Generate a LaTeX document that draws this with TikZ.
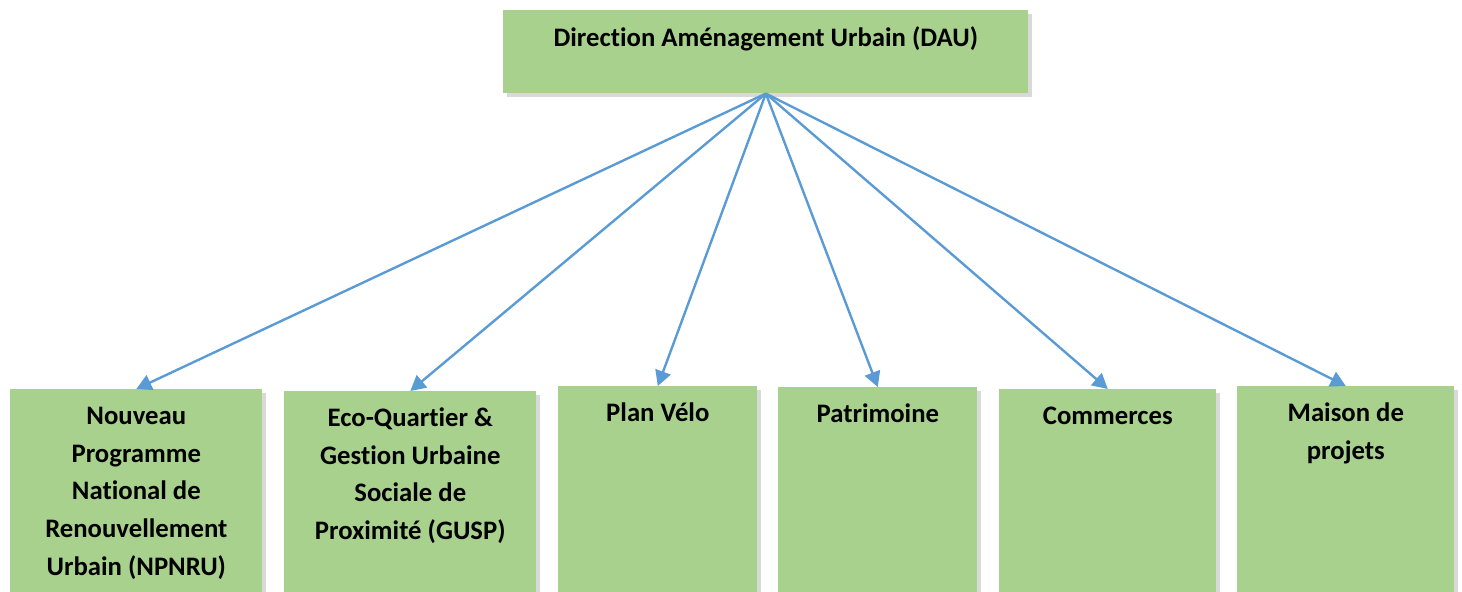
\documentclass[tikz,border=0pt]{standalone}
\usepackage{fontspec}
\setmainfont[Ligatures=NoCommon]{Carlito}
\usetikzlibrary{arrows.meta,shadows,positioning}
\definecolor{boxgreen}{HTML}{A9D18E}
\definecolor{linkblue}{HTML}{5B9BD5}

\begin{document}
\begin{tikzpicture}[x=0.025cm, y=-0.025cm,
    unit/.style={fill=boxgreen, draw=none, inner sep=0pt, anchor=north west,
      drop shadow={shadow xshift=0.09cm, shadow yshift=-0.09cm, opacity=0.3}},
    lbl/.style={anchor=north, inner sep=0pt, align=center,
      font=\fontsize{19}{26.8}\selectfont\bfseries},
    link/.style={draw=linkblue, line width=1.7pt, -{Triangle[length=0.38cm, width=0.4cm]}}]
        \useasboundingbox (0,0) rectangle (1462,592);
        % direction
        \node[unit, minimum width=13.125cm, minimum height=2.075cm] (dau) at (503,10) {};
        \node[lbl] (dau-t) at ([yshift=-0.24cm]dau.north) {\strut Direction Aménagement Urbain (DAU)};
        % services
        \node[unit, minimum width=6.3cm, minimum height=5.8cm] (npnru) at (10,389) {};
        \node[unit, minimum width=6.3cm, minimum height=5.8cm] (gusp) at (284,391) {};
        \node[unit, minimum width=4.975cm, minimum height=5.8cm] (velo) at (558,386) {};
        \node[unit, minimum width=4.975cm, minimum height=5.8cm] (patri) at (778,387) {};
        \node[unit, minimum width=5.425cm, minimum height=5.8cm] (comm) at (999,389) {};
        \node[unit, minimum width=5.425cm, minimum height=5.8cm] (maison) at (1237,386) {};
        \node[lbl] (npnru-t) at ([yshift=-0.22cm]npnru.north) {\strut Nouveau\\Programme\\National de\\Renouvellement\\Urbain (NPNRU)};
        \node[lbl] (gusp-t) at ([yshift=-0.22cm]gusp.north) {\strut Eco-Quartier \&\\Gestion Urbaine\\Sociale de\\Proximité (GUSP)};
        \node[lbl] (velo-t) at ([yshift=-0.22cm]velo.north) {\strut Plan Vélo};
        \node[lbl] (patri-t) at ([yshift=-0.22cm]patri.north) {\strut Patrimoine};
        \node[lbl] (comm-t) at ([yshift=-0.22cm]comm.north) {\strut Commerces};
        \node[lbl] (maison-t) at ([yshift=-0.22cm]maison.north) {\strut Maison de\\projets};
        % links
        \foreach \s in {npnru,gusp,velo,patri,comm,maison}
          \draw[link] (dau.south) -- (\s.north);
      \end{tikzpicture}
\end{document}
